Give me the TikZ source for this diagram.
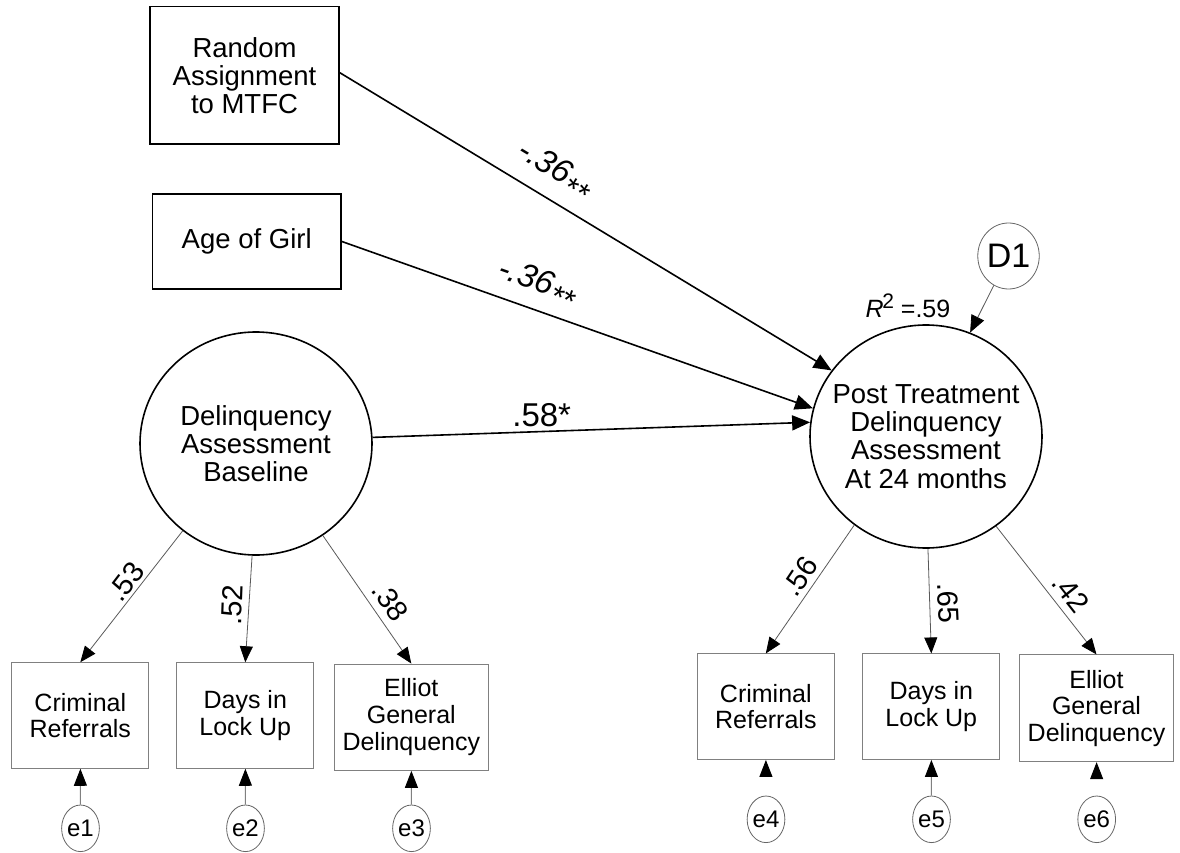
\documentclass[tikz,border=0pt]{standalone}
\usepackage{fontspec}
\setmainfont{Liberation Sans}
\usetikzlibrary{shapes.geometric,arrows.meta}
\begin{document}
\begin{tikzpicture}[x=1pt,y=-1pt,
  bigfont/.style={font=\fontsize{27.5}{28.3}\selectfont},
  smallfont/.style={font=\fontsize{25}{26.7}\selectfont},
  topbox/.style={draw=black, line width=1.6pt, rectangle, align=center, font=\fontsize{27.5}{28}\selectfont, inner sep=2pt},
  obsbox/.style={draw=gray, line width=1pt, rectangle, align=center, smallfont, inner sep=2pt, minimum height=105.5pt},
  latent/.style={draw=black, line width=1.6pt, ellipse, minimum width=232pt, minimum height=223pt, inner sep=0pt},
  ltext/.style={align=center, bigfont},
  errnode/.style={draw=gray!80!black, line width=0.8pt, ellipse, minimum width=37.6pt, minimum height=46.6pt, inner sep=0pt, font=\fontsize{24}{24}\selectfont},
  causal/.style={line width=1.6pt, -{Triangle[length=18pt,width=15pt]}},
  loading/.style={draw=gray!70!black, line width=0.8pt, -{Triangle[length=16pt,width=13pt,color=black]}},
  errarrow/.style={draw=gray, line width=1pt, -{Triangle[length=17pt,width=13pt,color=black]}},
  coef/.style={font=\fontsize{29}{29}\selectfont, inner sep=0pt},
  bcoef/.style={font=\fontsize{33}{33}\selectfont\itshape, inner sep=0pt},
]
\useasboundingbox (0,0) rectangle (1180,853);

% exogenous boxes
\node[topbox, minimum width=189pt, minimum height=137.3pt] (rand) at (244.5,75.3) {Random\\Assignment\\to MTFC};
\node[topbox, minimum width=188.7pt, minimum height=95pt] (age) at (246.7,241.5) {Age of Girl};

% latent variables
\node[latent] (base) at (256,443.5) {};
\node[ltext] (basetxt) at (256,443.5) {Delinquency\\Assessment\\Baseline};
\node[latent] (post) at (926,436.5) {};
\node[ltext] (posttxt) at (926,436.5) {Post Treatment\\Delinquency\\Assessment\\At 24 months};

% disturbance
\node[draw=gray!80!black, line width=0.8pt, ellipse, minimum width=59pt, minimum height=66pt, inner sep=0pt, font=\fontsize{34}{34}\selectfont] (d1) at (1008.5,256) {D1};
\node[font=\fontsize{25}{25}\selectfont, inner sep=0pt] (rsq) at (908,306) {\textit{R}\kern-1.5pt\raisebox{9pt}{\fontsize{21}{21}\selectfont 2} =.59};

% indicators, baseline
\node[obsbox, minimum width=137.3pt] (o1) at (80.3,715.5) {Criminal\\Referrals};
\node[obsbox, minimum width=137.3pt] (o2) at (245.3,715.5) {Days in\\Lock Up};
\node[obsbox, minimum width=154pt, minimum height=106.3pt] (o3) at (411.3,717.2) {Elliot\\General\\Delinquency};
% indicators, post
\node[obsbox, minimum width=137pt] (o4) at (765.8,706.7) {Criminal\\Referrals};
\node[obsbox, minimum width=137.3pt] (o5) at (931.3,706.7) {Days in\\Lock Up};
\node[obsbox, minimum width=154.3pt, minimum height=106.7pt] (o6) at (1096.5,708.3) {Elliot\\General\\Delinquency};

% error terms
\node[errnode] (e1) at (80.5,828.3) {e1};
\node[errnode] (e2) at (245.5,828.3) {e2};
\node[errnode] (e3) at (411.5,828.3) {e3};
\node[errnode] (e4) at (766,819.3) {e4};
\node[errnode] (e5) at (931.5,819.3) {e5};
\node[errnode] (e6) at (1096.7,819.3) {e6};

% structural paths
\draw[causal] ([yshift=2.6pt]rand.east) -- (post.145);
\draw[causal] (age.east) -- (post.166.8);
\draw[causal] (base.3.4) -- (post.173.7);
\draw[line width=0.8pt, draw=gray!70!black, -{Triangle[length=17pt,width=14pt,color=black]}] (d1) -- (post.67.2);

% loadings
\draw[loading] (base.-130) -- (o1.north);
\draw[loading] (base.-92.6) -- (o2.north);
\draw[loading] (base.-54.8) -- (o3.north);
\draw[loading] (post.-129) -- (o4.north);
\draw[loading] (post.-89.5) -- (o5.north);
\draw[loading] (post.-52) -- (o6.north);

% error arrows
\draw[errarrow] (e1) -- (o1);
\draw[errarrow] (e2) -- (o2);
\draw[errarrow] (e3) -- (o3);
\draw[errarrow, shorten <=19pt] (e4) -- (o4);
\draw[errarrow] (e5) -- (o5);
\draw[errarrow, shorten <=18pt] (e6) -- (o6);

% coefficients
\node[bcoef, rotate=-31.2] (c1) at (554,171) {-.36\raisebox{-9pt}{\fontsize{31}{31}\selectfont**}};
\node[bcoef, rotate=-19.6] (c2) at (537,284) {-.36\raisebox{-9pt}{\fontsize{31}{31}\selectfont**}};
\node[font=\fontsize{33}{33}\selectfont, inner sep=0pt] (c3) at (541.7,415) {.58*};

\node[coef, rotate=52.6] (l1) at (126,581.5) {.53};
\node[coef, rotate=87.9] (l2) at (232,605) {.52};
\node[coef, rotate=-54.7] (l3) at (390.5,601.5) {.38};
\node[coef, rotate=56.2] (l4) at (799.5,576.5) {.56};
\node[coef, rotate=-87.3] (l5) at (948,603.3) {.65};
\node[coef, rotate=-51.8] (l6) at (1070.5,593) {.42};
\end{tikzpicture}
\end{document}
